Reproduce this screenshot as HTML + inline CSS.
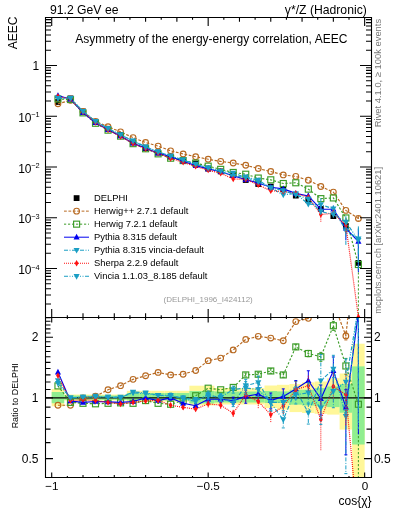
<!DOCTYPE html><html><head><meta charset="utf-8"><style>html,body{margin:0;padding:0;background:#fff;width:393px;height:512px;overflow:hidden}</style></head><body><svg width="393" height="512" viewBox="0 0 393 512" style="display:block;will-change:transform">
<rect width="393" height="512" fill="#fff"/>
<rect x="51.70" y="389.00" width="12.52" height="17.30" fill="#fff799"/>
<rect x="64.22" y="394.50" width="12.52" height="6.00" fill="#fff799"/>
<rect x="76.74" y="394.50" width="12.52" height="6.00" fill="#fff799"/>
<rect x="89.25" y="394.50" width="12.52" height="6.00" fill="#fff799"/>
<rect x="101.77" y="394.50" width="12.52" height="6.00" fill="#fff799"/>
<rect x="114.29" y="394.50" width="12.52" height="6.00" fill="#fff799"/>
<rect x="126.81" y="390.80" width="12.52" height="10.90" fill="#fff799"/>
<rect x="139.33" y="390.80" width="12.52" height="10.90" fill="#fff799"/>
<rect x="151.84" y="390.80" width="12.52" height="10.90" fill="#fff799"/>
<rect x="164.36" y="390.80" width="12.52" height="10.90" fill="#fff799"/>
<rect x="176.88" y="390.80" width="12.52" height="10.90" fill="#fff799"/>
<rect x="189.40" y="385.70" width="12.52" height="19.80" fill="#fff799"/>
<rect x="201.92" y="385.70" width="12.52" height="19.80" fill="#fff799"/>
<rect x="214.43" y="388.00" width="12.52" height="16.50" fill="#fff799"/>
<rect x="226.95" y="388.00" width="12.52" height="16.50" fill="#fff799"/>
<rect x="239.47" y="388.00" width="12.52" height="16.50" fill="#fff799"/>
<rect x="251.99" y="388.00" width="12.52" height="16.50" fill="#fff799"/>
<rect x="264.51" y="385.50" width="12.52" height="22.50" fill="#fff799"/>
<rect x="277.02" y="384.80" width="12.52" height="24.80" fill="#fff799"/>
<rect x="289.54" y="384.00" width="12.52" height="28.10" fill="#fff799"/>
<rect x="302.06" y="382.40" width="12.52" height="30.60" fill="#fff799"/>
<rect x="314.58" y="381.50" width="12.52" height="32.30" fill="#fff799"/>
<rect x="327.10" y="378.20" width="12.52" height="36.40" fill="#fff799"/>
<rect x="339.61" y="373.50" width="12.52" height="56.10" fill="#fff799"/>
<rect x="352.13" y="343.70" width="12.52" height="133.80" fill="#fff799"/>
<rect x="51.70" y="392.00" width="12.52" height="11.20" fill="#90ee90"/>
<rect x="64.22" y="395.50" width="12.52" height="4.30" fill="#90ee90"/>
<rect x="76.74" y="395.50" width="12.52" height="4.30" fill="#90ee90"/>
<rect x="89.25" y="395.50" width="12.52" height="4.30" fill="#90ee90"/>
<rect x="101.77" y="395.50" width="12.52" height="4.30" fill="#90ee90"/>
<rect x="114.29" y="395.50" width="12.52" height="4.30" fill="#90ee90"/>
<rect x="126.81" y="393.00" width="12.52" height="7.40" fill="#90ee90"/>
<rect x="139.33" y="393.00" width="12.52" height="7.40" fill="#90ee90"/>
<rect x="151.84" y="393.00" width="12.52" height="7.40" fill="#90ee90"/>
<rect x="164.36" y="393.00" width="12.52" height="7.40" fill="#90ee90"/>
<rect x="176.88" y="393.00" width="12.52" height="7.40" fill="#90ee90"/>
<rect x="189.40" y="391.00" width="12.52" height="12.50" fill="#90ee90"/>
<rect x="201.92" y="391.00" width="12.52" height="12.50" fill="#90ee90"/>
<rect x="214.43" y="391.50" width="12.52" height="11.00" fill="#90ee90"/>
<rect x="226.95" y="391.50" width="12.52" height="11.00" fill="#90ee90"/>
<rect x="239.47" y="391.50" width="12.52" height="11.00" fill="#90ee90"/>
<rect x="251.99" y="391.50" width="12.52" height="11.00" fill="#90ee90"/>
<rect x="264.51" y="391.00" width="12.52" height="12.00" fill="#90ee90"/>
<rect x="277.02" y="391.40" width="12.52" height="11.60" fill="#90ee90"/>
<rect x="289.54" y="389.80" width="12.52" height="14.90" fill="#90ee90"/>
<rect x="302.06" y="389.80" width="12.52" height="15.70" fill="#90ee90"/>
<rect x="314.58" y="388.10" width="12.52" height="18.20" fill="#90ee90"/>
<rect x="327.10" y="386.50" width="12.52" height="20.60" fill="#90ee90"/>
<rect x="339.61" y="384.00" width="12.52" height="28.70" fill="#90ee90"/>
<rect x="352.13" y="366.40" width="12.52" height="78.10" fill="#90ee90"/>
<line x1="45.5" y1="397.9" x2="371.5" y2="397.9" stroke="#000" stroke-width="1.2"/>
<clipPath id="cu"><rect x="45.5" y="17.5" width="326.0" height="300.0"/></clipPath>
<clipPath id="cr"><rect x="45.5" y="317.5" width="326.0" height="160.0"/></clipPath>
<g clip-path="url(#cu)">
<rect x="55.06" y="99.10" width="5.8" height="5.8" fill="#000"/>
<rect x="67.58" y="95.50" width="5.8" height="5.8" fill="#000"/>
<rect x="80.10" y="108.60" width="5.8" height="5.8" fill="#000"/>
<rect x="92.61" y="118.90" width="5.8" height="5.8" fill="#000"/>
<rect x="105.13" y="125.90" width="5.8" height="5.8" fill="#000"/>
<rect x="117.65" y="132.00" width="5.8" height="5.8" fill="#000"/>
<rect x="130.17" y="139.40" width="5.8" height="5.8" fill="#000"/>
<rect x="142.69" y="145.20" width="5.8" height="5.8" fill="#000"/>
<rect x="155.20" y="149.60" width="5.8" height="5.8" fill="#000"/>
<rect x="167.72" y="153.70" width="5.8" height="5.8" fill="#000"/>
<rect x="180.24" y="157.00" width="5.8" height="5.8" fill="#000"/>
<rect x="192.76" y="160.70" width="5.8" height="5.8" fill="#000"/>
<rect x="205.28" y="165.70" width="5.8" height="5.8" fill="#000"/>
<rect x="217.79" y="168.50" width="5.8" height="5.8" fill="#000"/>
<rect x="230.31" y="172.20" width="5.8" height="5.8" fill="#000"/>
<rect x="242.83" y="177.10" width="5.8" height="5.8" fill="#000"/>
<rect x="255.35" y="181.10" width="5.8" height="5.8" fill="#000"/>
<rect x="267.87" y="183.70" width="5.8" height="5.8" fill="#000"/>
<rect x="280.38" y="186.40" width="5.8" height="5.8" fill="#000"/>
<rect x="292.90" y="192.70" width="5.8" height="5.8" fill="#000"/>
<rect x="305.42" y="197.40" width="5.8" height="5.8" fill="#000"/>
<rect x="317.94" y="206.10" width="5.8" height="5.8" fill="#000"/>
<rect x="330.46" y="213.20" width="5.8" height="5.8" fill="#000"/>
<rect x="342.97" y="223.10" width="5.8" height="5.8" fill="#000"/>
<rect x="355.49" y="260.00" width="5.8" height="5.8" fill="#000"/>
<polyline points="57.96,103.84 70.48,100.24 83.00,111.50 95.51,121.36 108.03,126.74 120.55,131.82 133.07,137.63 145.59,142.54 158.10,146.08 170.62,150.82 183.14,153.95 195.66,156.71 208.18,159.23 220.69,161.39 233.21,163.02 245.73,165.28 258.25,168.50 270.77,171.54 283.28,174.92 295.80,176.40 308.32,180.28 320.84,186.54 333.36,192.11 345.87,210.39 358.39,218.49" fill="none" stroke="#b86a22" stroke-width="1.15" stroke-dasharray="2.8,1.6"/>
<circle cx="57.96" cy="103.84" r="2.85" fill="none" stroke="#b86a22" stroke-width="1.15"/>
<circle cx="70.48" cy="100.24" r="2.85" fill="none" stroke="#b86a22" stroke-width="1.15"/>
<circle cx="83.00" cy="111.50" r="2.85" fill="none" stroke="#b86a22" stroke-width="1.15"/>
<circle cx="95.51" cy="121.36" r="2.85" fill="none" stroke="#b86a22" stroke-width="1.15"/>
<circle cx="108.03" cy="126.74" r="2.85" fill="none" stroke="#b86a22" stroke-width="1.15"/>
<circle cx="120.55" cy="131.82" r="2.85" fill="none" stroke="#b86a22" stroke-width="1.15"/>
<circle cx="133.07" cy="137.63" r="2.85" fill="none" stroke="#b86a22" stroke-width="1.15"/>
<circle cx="145.59" cy="142.54" r="2.85" fill="none" stroke="#b86a22" stroke-width="1.15"/>
<circle cx="158.10" cy="146.08" r="2.85" fill="none" stroke="#b86a22" stroke-width="1.15"/>
<circle cx="170.62" cy="150.82" r="2.85" fill="none" stroke="#b86a22" stroke-width="1.15"/>
<circle cx="183.14" cy="153.95" r="2.85" fill="none" stroke="#b86a22" stroke-width="1.15"/>
<circle cx="195.66" cy="156.71" r="2.85" fill="none" stroke="#b86a22" stroke-width="1.15"/>
<circle cx="208.18" cy="159.23" r="2.85" fill="none" stroke="#b86a22" stroke-width="1.15"/>
<circle cx="220.69" cy="161.39" r="2.85" fill="none" stroke="#b86a22" stroke-width="1.15"/>
<circle cx="233.21" cy="163.02" r="2.85" fill="none" stroke="#b86a22" stroke-width="1.15"/>
<circle cx="245.73" cy="165.28" r="2.85" fill="none" stroke="#b86a22" stroke-width="1.15"/>
<circle cx="258.25" cy="168.50" r="2.85" fill="none" stroke="#b86a22" stroke-width="1.15"/>
<circle cx="270.77" cy="171.54" r="2.85" fill="none" stroke="#b86a22" stroke-width="1.15"/>
<circle cx="283.28" cy="174.92" r="2.85" fill="none" stroke="#b86a22" stroke-width="1.15"/>
<circle cx="295.80" cy="176.40" r="2.85" fill="none" stroke="#b86a22" stroke-width="1.15"/>
<circle cx="308.32" cy="180.28" r="2.85" fill="none" stroke="#b86a22" stroke-width="1.15"/>
<circle cx="320.84" cy="186.54" r="2.85" fill="none" stroke="#b86a22" stroke-width="1.15"/>
<circle cx="333.36" cy="192.11" r="2.85" fill="none" stroke="#b86a22" stroke-width="1.15"/>
<circle cx="345.87" cy="210.39" r="2.85" fill="none" stroke="#b86a22" stroke-width="1.15"/>
<line x1="358.39" y1="216.14" x2="358.39" y2="221.12" stroke="#b86a22" stroke-width="1" stroke-dasharray="2.8,1.6"/>
<circle cx="358.39" cy="218.49" r="2.85" fill="none" stroke="#b86a22" stroke-width="1.15"/>
<polyline points="57.96,98.98 70.48,99.53 83.00,112.86 95.51,123.28 108.03,130.16 120.55,136.15 133.07,143.66 145.59,148.77 158.10,153.86 170.62,158.20 183.14,160.57 195.66,163.06 208.18,166.16 220.69,169.36 233.21,172.46 245.73,174.22 258.25,178.05 270.77,179.82 283.28,183.52 295.80,182.77 308.32,189.13 320.84,198.64 333.36,197.93 345.87,217.96 358.39,264.50" fill="none" stroke="#3c9c28" stroke-width="1.15" stroke-dasharray="2.2,1.8"/>
<rect x="54.96" y="95.98" width="6.0" height="6.0" fill="none" stroke="#3c9c28" stroke-width="1.15"/>
<rect x="67.48" y="96.53" width="6.0" height="6.0" fill="none" stroke="#3c9c28" stroke-width="1.15"/>
<rect x="80.00" y="109.86" width="6.0" height="6.0" fill="none" stroke="#3c9c28" stroke-width="1.15"/>
<rect x="92.51" y="120.28" width="6.0" height="6.0" fill="none" stroke="#3c9c28" stroke-width="1.15"/>
<rect x="105.03" y="127.16" width="6.0" height="6.0" fill="none" stroke="#3c9c28" stroke-width="1.15"/>
<rect x="117.55" y="133.15" width="6.0" height="6.0" fill="none" stroke="#3c9c28" stroke-width="1.15"/>
<rect x="130.07" y="140.66" width="6.0" height="6.0" fill="none" stroke="#3c9c28" stroke-width="1.15"/>
<rect x="142.59" y="145.77" width="6.0" height="6.0" fill="none" stroke="#3c9c28" stroke-width="1.15"/>
<rect x="155.10" y="150.86" width="6.0" height="6.0" fill="none" stroke="#3c9c28" stroke-width="1.15"/>
<rect x="167.62" y="155.20" width="6.0" height="6.0" fill="none" stroke="#3c9c28" stroke-width="1.15"/>
<rect x="180.14" y="157.57" width="6.0" height="6.0" fill="none" stroke="#3c9c28" stroke-width="1.15"/>
<rect x="192.66" y="160.06" width="6.0" height="6.0" fill="none" stroke="#3c9c28" stroke-width="1.15"/>
<rect x="205.18" y="163.16" width="6.0" height="6.0" fill="none" stroke="#3c9c28" stroke-width="1.15"/>
<rect x="217.69" y="166.36" width="6.0" height="6.0" fill="none" stroke="#3c9c28" stroke-width="1.15"/>
<rect x="230.21" y="169.46" width="6.0" height="6.0" fill="none" stroke="#3c9c28" stroke-width="1.15"/>
<rect x="242.73" y="171.22" width="6.0" height="6.0" fill="none" stroke="#3c9c28" stroke-width="1.15"/>
<rect x="255.25" y="175.05" width="6.0" height="6.0" fill="none" stroke="#3c9c28" stroke-width="1.15"/>
<rect x="267.77" y="176.82" width="6.0" height="6.0" fill="none" stroke="#3c9c28" stroke-width="1.15"/>
<rect x="280.28" y="180.52" width="6.0" height="6.0" fill="none" stroke="#3c9c28" stroke-width="1.15"/>
<rect x="292.80" y="179.77" width="6.0" height="6.0" fill="none" stroke="#3c9c28" stroke-width="1.15"/>
<rect x="305.32" y="186.13" width="6.0" height="6.0" fill="none" stroke="#3c9c28" stroke-width="1.15"/>
<rect x="317.84" y="195.64" width="6.0" height="6.0" fill="none" stroke="#3c9c28" stroke-width="1.15"/>
<rect x="330.36" y="194.93" width="6.0" height="6.0" fill="none" stroke="#3c9c28" stroke-width="1.15"/>
<rect x="342.87" y="214.96" width="6.0" height="6.0" fill="none" stroke="#3c9c28" stroke-width="1.15"/>
<line x1="358.39" y1="244.30" x2="358.39" y2="600.00" stroke="#3c9c28" stroke-width="1" stroke-dasharray="2.2,1.8"/>
<rect x="355.39" y="261.50" width="6.0" height="6.0" fill="none" stroke="#3c9c28" stroke-width="1.15"/>
<polyline points="57.96,95.55 70.48,99.19 83.00,112.63 95.51,122.70 108.03,129.81 120.55,136.03 133.07,143.20 145.59,148.10 158.10,153.17 170.62,156.60 183.14,161.26 195.66,165.58 208.18,168.93 220.69,171.73 233.21,175.77 245.73,179.63 258.25,183.03 270.77,187.27 283.28,188.93 295.80,193.34 308.32,195.97 320.84,209.22 333.36,209.26 345.87,228.32 358.39,241.50" fill="none" stroke="#0000f0" stroke-width="1.15"/>
<path d="M57.96,92.15 L61.01,97.85 L54.91,97.85Z" fill="#0000f0"/>
<path d="M70.48,95.79 L73.53,101.49 L67.43,101.49Z" fill="#0000f0"/>
<path d="M83.00,109.23 L86.05,114.93 L79.95,114.93Z" fill="#0000f0"/>
<path d="M95.51,119.30 L98.56,125.00 L92.46,125.00Z" fill="#0000f0"/>
<path d="M108.03,126.41 L111.08,132.11 L104.98,132.11Z" fill="#0000f0"/>
<path d="M120.55,132.63 L123.60,138.33 L117.50,138.33Z" fill="#0000f0"/>
<path d="M133.07,139.80 L136.12,145.50 L130.02,145.50Z" fill="#0000f0"/>
<path d="M145.59,144.70 L148.64,150.40 L142.54,150.40Z" fill="#0000f0"/>
<path d="M158.10,149.77 L161.15,155.47 L155.05,155.47Z" fill="#0000f0"/>
<path d="M170.62,153.20 L173.67,158.90 L167.57,158.90Z" fill="#0000f0"/>
<path d="M183.14,157.86 L186.19,163.56 L180.09,163.56Z" fill="#0000f0"/>
<path d="M195.66,162.18 L198.71,167.88 L192.61,167.88Z" fill="#0000f0"/>
<path d="M208.18,165.53 L211.23,171.23 L205.13,171.23Z" fill="#0000f0"/>
<path d="M220.69,168.33 L223.74,174.03 L217.64,174.03Z" fill="#0000f0"/>
<path d="M233.21,172.37 L236.26,178.07 L230.16,178.07Z" fill="#0000f0"/>
<path d="M245.73,176.23 L248.78,181.93 L242.68,181.93Z" fill="#0000f0"/>
<path d="M258.25,179.63 L261.30,185.33 L255.20,185.33Z" fill="#0000f0"/>
<path d="M270.77,183.87 L273.82,189.57 L267.72,189.57Z" fill="#0000f0"/>
<path d="M283.28,185.53 L286.33,191.23 L280.23,191.23Z" fill="#0000f0"/>
<path d="M295.80,189.94 L298.85,195.64 L292.75,195.64Z" fill="#0000f0"/>
<line x1="308.32" y1="193.47" x2="308.32" y2="198.79" stroke="#0000f0" stroke-width="1"/>
<path d="M308.32,192.57 L311.37,198.27 L305.27,198.27Z" fill="#0000f0"/>
<line x1="320.84" y1="205.76" x2="320.84" y2="213.33" stroke="#0000f0" stroke-width="1"/>
<path d="M320.84,205.82 L323.89,211.52 L317.79,211.52Z" fill="#0000f0"/>
<line x1="333.36" y1="205.80" x2="333.36" y2="213.36" stroke="#0000f0" stroke-width="1"/>
<path d="M333.36,205.86 L336.41,211.56 L330.31,211.56Z" fill="#0000f0"/>
<line x1="345.87" y1="223.94" x2="345.87" y2="240.33" stroke="#0000f0" stroke-width="1"/>
<path d="M345.87,224.92 L348.92,230.62 L342.82,230.62Z" fill="#0000f0"/>
<line x1="358.39" y1="229.17" x2="358.39" y2="272.06" stroke="#0000f0" stroke-width="1"/>
<path d="M358.39,238.10 L361.44,243.80 L355.34,243.80Z" fill="#0000f0"/>
<polyline points="57.96,97.62 70.48,98.40 83.00,111.28 95.51,121.58 108.03,128.58 120.55,134.90 133.07,140.81 145.59,146.82 158.10,151.85 170.62,155.95 183.14,160.12 195.66,164.50 208.18,167.74 220.69,171.40 233.21,176.39 245.73,176.92 258.25,180.11 270.77,187.89 283.28,194.78 295.80,193.56 308.32,204.06 320.84,204.67 333.36,208.84 345.87,230.64 358.39,238.69" fill="none" stroke="#1a9ec4" stroke-width="1.15" stroke-dasharray="4,1.5,1,1.5"/>
<path d="M57.96,101.02 L61.01,95.32 L54.91,95.32Z" fill="#1a9ec4"/>
<path d="M70.48,101.80 L73.53,96.10 L67.43,96.10Z" fill="#1a9ec4"/>
<path d="M83.00,114.68 L86.05,108.98 L79.95,108.98Z" fill="#1a9ec4"/>
<path d="M95.51,124.98 L98.56,119.28 L92.46,119.28Z" fill="#1a9ec4"/>
<path d="M108.03,131.98 L111.08,126.28 L104.98,126.28Z" fill="#1a9ec4"/>
<path d="M120.55,138.30 L123.60,132.60 L117.50,132.60Z" fill="#1a9ec4"/>
<path d="M133.07,144.21 L136.12,138.51 L130.02,138.51Z" fill="#1a9ec4"/>
<path d="M145.59,150.22 L148.64,144.52 L142.54,144.52Z" fill="#1a9ec4"/>
<path d="M158.10,155.25 L161.15,149.55 L155.05,149.55Z" fill="#1a9ec4"/>
<path d="M170.62,159.35 L173.67,153.65 L167.57,153.65Z" fill="#1a9ec4"/>
<path d="M183.14,163.52 L186.19,157.82 L180.09,157.82Z" fill="#1a9ec4"/>
<path d="M195.66,167.90 L198.71,162.20 L192.61,162.20Z" fill="#1a9ec4"/>
<path d="M208.18,171.14 L211.23,165.44 L205.13,165.44Z" fill="#1a9ec4"/>
<path d="M220.69,174.80 L223.74,169.10 L217.64,169.10Z" fill="#1a9ec4"/>
<path d="M233.21,179.79 L236.26,174.09 L230.16,174.09Z" fill="#1a9ec4"/>
<path d="M245.73,180.32 L248.78,174.62 L242.68,174.62Z" fill="#1a9ec4"/>
<path d="M258.25,183.51 L261.30,177.81 L255.20,177.81Z" fill="#1a9ec4"/>
<path d="M270.77,191.29 L273.82,185.59 L267.72,185.59Z" fill="#1a9ec4"/>
<path d="M283.28,198.18 L286.33,192.48 L280.23,192.48Z" fill="#1a9ec4"/>
<path d="M295.80,196.96 L298.85,191.26 L292.75,191.26Z" fill="#1a9ec4"/>
<line x1="308.32" y1="201.57" x2="308.32" y2="206.88" stroke="#1a9ec4" stroke-width="1" stroke-dasharray="4,1.5,1,1.5"/>
<path d="M308.32,207.46 L311.37,201.76 L305.27,201.76Z" fill="#1a9ec4"/>
<line x1="320.84" y1="198.06" x2="320.84" y2="214.17" stroke="#1a9ec4" stroke-width="1" stroke-dasharray="4,1.5,1,1.5"/>
<path d="M320.84,208.07 L323.89,202.37 L317.79,202.37Z" fill="#1a9ec4"/>
<line x1="333.36" y1="205.38" x2="333.36" y2="212.95" stroke="#1a9ec4" stroke-width="1" stroke-dasharray="4,1.5,1,1.5"/>
<path d="M333.36,212.24 L336.41,206.54 L330.31,206.54Z" fill="#1a9ec4"/>
<line x1="345.87" y1="224.86" x2="345.87" y2="245.06" stroke="#1a9ec4" stroke-width="1" stroke-dasharray="4,1.5,1,1.5"/>
<path d="M345.87,234.04 L348.92,228.34 L342.82,228.34Z" fill="#1a9ec4"/>
<line x1="358.39" y1="226.35" x2="358.39" y2="269.24" stroke="#1a9ec4" stroke-width="1" stroke-dasharray="4,1.5,1,1.5"/>
<path d="M358.39,242.09 L361.44,236.39 L355.34,236.39Z" fill="#1a9ec4"/>
<polyline points="57.96,96.39 70.48,99.07 83.00,111.95 95.51,122.47 108.03,129.93 120.55,136.43 133.07,143.43 145.59,148.86 158.10,153.10 170.62,158.44 183.14,162.30 195.66,166.42 208.18,170.10 220.69,173.24 233.21,178.97 245.73,179.22 258.25,184.90 270.77,190.81 283.28,191.43 295.80,193.50 308.32,197.22 320.84,214.48 333.36,213.21 345.87,225.20 358.39,317.00" fill="none" stroke="#ff1010" stroke-width="1.15" stroke-dasharray="1,1"/>
<path d="M57.96,93.19 L59.86,96.39 L57.96,99.59 L56.06,96.39Z" fill="#ff1010"/>
<path d="M70.48,95.87 L72.38,99.07 L70.48,102.27 L68.58,99.07Z" fill="#ff1010"/>
<path d="M83.00,108.75 L84.90,111.95 L83.00,115.15 L81.10,111.95Z" fill="#ff1010"/>
<path d="M95.51,119.27 L97.41,122.47 L95.51,125.67 L93.61,122.47Z" fill="#ff1010"/>
<path d="M108.03,126.73 L109.93,129.93 L108.03,133.13 L106.13,129.93Z" fill="#ff1010"/>
<path d="M120.55,133.23 L122.45,136.43 L120.55,139.63 L118.65,136.43Z" fill="#ff1010"/>
<path d="M133.07,140.23 L134.97,143.43 L133.07,146.63 L131.17,143.43Z" fill="#ff1010"/>
<path d="M145.59,145.66 L147.49,148.86 L145.59,152.06 L143.69,148.86Z" fill="#ff1010"/>
<path d="M158.10,149.90 L160.00,153.10 L158.10,156.30 L156.20,153.10Z" fill="#ff1010"/>
<path d="M170.62,155.24 L172.52,158.44 L170.62,161.64 L168.72,158.44Z" fill="#ff1010"/>
<path d="M183.14,159.10 L185.04,162.30 L183.14,165.50 L181.24,162.30Z" fill="#ff1010"/>
<path d="M195.66,163.22 L197.56,166.42 L195.66,169.62 L193.76,166.42Z" fill="#ff1010"/>
<path d="M208.18,166.90 L210.08,170.10 L208.18,173.30 L206.28,170.10Z" fill="#ff1010"/>
<path d="M220.69,170.04 L222.59,173.24 L220.69,176.44 L218.79,173.24Z" fill="#ff1010"/>
<path d="M233.21,175.77 L235.11,178.97 L233.21,182.17 L231.31,178.97Z" fill="#ff1010"/>
<path d="M245.73,176.02 L247.63,179.22 L245.73,182.42 L243.83,179.22Z" fill="#ff1010"/>
<path d="M258.25,181.70 L260.15,184.90 L258.25,188.10 L256.35,184.90Z" fill="#ff1010"/>
<path d="M270.77,187.61 L272.67,190.81 L270.77,194.01 L268.87,190.81Z" fill="#ff1010"/>
<path d="M283.28,188.23 L285.18,191.43 L283.28,194.63 L281.38,191.43Z" fill="#ff1010"/>
<path d="M295.80,190.30 L297.70,193.50 L295.80,196.70 L293.90,193.50Z" fill="#ff1010"/>
<line x1="308.32" y1="194.72" x2="308.32" y2="200.04" stroke="#ff1010" stroke-width="1" stroke-dasharray="1,1"/>
<path d="M308.32,194.02 L310.22,197.22 L308.32,200.42 L306.42,197.22Z" fill="#ff1010"/>
<line x1="320.84" y1="208.69" x2="320.84" y2="222.34" stroke="#ff1010" stroke-width="1" stroke-dasharray="1,1"/>
<path d="M320.84,211.28 L322.74,214.48 L320.84,217.68 L318.94,214.48Z" fill="#ff1010"/>
<line x1="333.36" y1="209.75" x2="333.36" y2="217.32" stroke="#ff1010" stroke-width="1" stroke-dasharray="1,1"/>
<path d="M333.36,210.01 L335.26,213.21 L333.36,216.41 L331.46,213.21Z" fill="#ff1010"/>
<line x1="345.87" y1="219.42" x2="345.87" y2="233.06" stroke="#ff1010" stroke-width="1" stroke-dasharray="1,1"/>
<path d="M345.87,222.00 L347.77,225.20 L345.87,228.40 L343.97,225.20Z" fill="#ff1010"/>
<path d="M358.39,313.80 L360.29,317.00 L358.39,320.20 L356.49,317.00Z" fill="#ff1010"/>
<polyline points="57.96,98.35 70.48,98.40 83.00,111.28 95.51,121.36 108.03,128.58 120.55,134.68 133.07,141.02 145.59,147.02 158.10,151.85 170.62,156.16 183.14,159.90 195.66,164.05 208.18,168.16 220.69,171.18 233.21,173.00 245.73,177.50 258.25,181.90 270.77,187.73 283.28,190.43 295.80,194.80 308.32,199.02 320.84,211.57 333.36,214.47 345.87,221.98 358.39,240.21" fill="none" stroke="#1a9ec4" stroke-width="1.15" stroke-dasharray="4,1.5,1,1.5,1,1.5"/>
<path d="M57.96,101.75 L61.01,96.05 L54.91,96.05Z" fill="#1a9ec4"/>
<path d="M70.48,101.80 L73.53,96.10 L67.43,96.10Z" fill="#1a9ec4"/>
<path d="M83.00,114.68 L86.05,108.98 L79.95,108.98Z" fill="#1a9ec4"/>
<path d="M95.51,124.76 L98.56,119.06 L92.46,119.06Z" fill="#1a9ec4"/>
<path d="M108.03,131.98 L111.08,126.28 L104.98,126.28Z" fill="#1a9ec4"/>
<path d="M120.55,138.08 L123.60,132.38 L117.50,132.38Z" fill="#1a9ec4"/>
<path d="M133.07,144.42 L136.12,138.72 L130.02,138.72Z" fill="#1a9ec4"/>
<path d="M145.59,150.42 L148.64,144.72 L142.54,144.72Z" fill="#1a9ec4"/>
<path d="M158.10,155.25 L161.15,149.55 L155.05,149.55Z" fill="#1a9ec4"/>
<path d="M170.62,159.56 L173.67,153.86 L167.57,153.86Z" fill="#1a9ec4"/>
<path d="M183.14,163.30 L186.19,157.60 L180.09,157.60Z" fill="#1a9ec4"/>
<path d="M195.66,167.45 L198.71,161.75 L192.61,161.75Z" fill="#1a9ec4"/>
<path d="M208.18,171.56 L211.23,165.86 L205.13,165.86Z" fill="#1a9ec4"/>
<path d="M220.69,174.58 L223.74,168.88 L217.64,168.88Z" fill="#1a9ec4"/>
<path d="M233.21,176.40 L236.26,170.70 L230.16,170.70Z" fill="#1a9ec4"/>
<path d="M245.73,180.90 L248.78,175.20 L242.68,175.20Z" fill="#1a9ec4"/>
<path d="M258.25,185.30 L261.30,179.60 L255.20,179.60Z" fill="#1a9ec4"/>
<path d="M270.77,191.13 L273.82,185.43 L267.72,185.43Z" fill="#1a9ec4"/>
<path d="M283.28,193.83 L286.33,188.13 L280.23,188.13Z" fill="#1a9ec4"/>
<path d="M295.80,198.20 L298.85,192.50 L292.75,192.50Z" fill="#1a9ec4"/>
<line x1="308.32" y1="196.52" x2="308.32" y2="201.83" stroke="#1a9ec4" stroke-width="1" stroke-dasharray="4,1.5,1,1.5,1,1.5"/>
<path d="M308.32,202.42 L311.37,196.72 L305.27,196.72Z" fill="#1a9ec4"/>
<line x1="320.84" y1="208.11" x2="320.84" y2="215.68" stroke="#1a9ec4" stroke-width="1" stroke-dasharray="4,1.5,1,1.5,1,1.5"/>
<path d="M320.84,214.97 L323.89,209.27 L317.79,209.27Z" fill="#1a9ec4"/>
<line x1="333.36" y1="211.00" x2="333.36" y2="218.57" stroke="#1a9ec4" stroke-width="1" stroke-dasharray="4,1.5,1,1.5,1,1.5"/>
<path d="M333.36,217.87 L336.41,212.17 L330.31,212.17Z" fill="#1a9ec4"/>
<line x1="345.87" y1="216.20" x2="345.87" y2="229.84" stroke="#1a9ec4" stroke-width="1" stroke-dasharray="4,1.5,1,1.5,1,1.5"/>
<path d="M345.87,225.38 L348.92,219.68 L342.82,219.68Z" fill="#1a9ec4"/>
<line x1="358.39" y1="227.87" x2="358.39" y2="270.76" stroke="#1a9ec4" stroke-width="1" stroke-dasharray="4,1.5,1,1.5,1,1.5"/>
<path d="M358.39,243.61 L361.44,237.91 L355.34,237.91Z" fill="#1a9ec4"/>
</g>
<g clip-path="url(#cr)">
<polyline points="57.96,405.20 70.48,405.20 83.00,397.90 95.51,396.17 108.03,389.71 120.55,385.66 133.07,379.35 145.59,375.80 158.10,372.40 170.62,374.92 183.14,374.25 195.66,370.52 208.18,360.66 220.69,358.12 233.21,349.90 245.73,339.42 258.25,336.33 270.77,338.08 283.28,340.77 295.80,321.60 308.32,318.36 320.84,308.68 333.36,302.57 345.87,335.90 358.39,221.45" fill="none" stroke="#b86a22" stroke-width="1.15" stroke-dasharray="2.8,1.6"/>
<circle cx="57.96" cy="405.20" r="2.85" fill="none" stroke="#b86a22" stroke-width="1.15"/>
<circle cx="70.48" cy="405.20" r="2.85" fill="none" stroke="#b86a22" stroke-width="1.15"/>
<circle cx="83.00" cy="397.90" r="2.85" fill="none" stroke="#b86a22" stroke-width="1.15"/>
<circle cx="95.51" cy="396.17" r="2.85" fill="none" stroke="#b86a22" stroke-width="1.15"/>
<circle cx="108.03" cy="389.71" r="2.85" fill="none" stroke="#b86a22" stroke-width="1.15"/>
<circle cx="120.55" cy="385.66" r="2.85" fill="none" stroke="#b86a22" stroke-width="1.15"/>
<circle cx="133.07" cy="379.35" r="2.85" fill="none" stroke="#b86a22" stroke-width="1.15"/>
<circle cx="145.59" cy="375.80" r="2.85" fill="none" stroke="#b86a22" stroke-width="1.15"/>
<circle cx="158.10" cy="372.40" r="2.85" fill="none" stroke="#b86a22" stroke-width="1.15"/>
<circle cx="170.62" cy="374.92" r="2.85" fill="none" stroke="#b86a22" stroke-width="1.15"/>
<circle cx="183.14" cy="374.25" r="2.85" fill="none" stroke="#b86a22" stroke-width="1.15"/>
<circle cx="195.66" cy="370.52" r="2.85" fill="none" stroke="#b86a22" stroke-width="1.15"/>
<circle cx="208.18" cy="360.66" r="2.85" fill="none" stroke="#b86a22" stroke-width="1.15"/>
<circle cx="220.69" cy="358.12" r="2.85" fill="none" stroke="#b86a22" stroke-width="1.15"/>
<circle cx="233.21" cy="349.90" r="2.85" fill="none" stroke="#b86a22" stroke-width="1.15"/>
<circle cx="245.73" cy="339.42" r="2.85" fill="none" stroke="#b86a22" stroke-width="1.15"/>
<circle cx="258.25" cy="336.33" r="2.85" fill="none" stroke="#b86a22" stroke-width="1.15"/>
<circle cx="270.77" cy="338.08" r="2.85" fill="none" stroke="#b86a22" stroke-width="1.15"/>
<circle cx="283.28" cy="340.77" r="2.85" fill="none" stroke="#b86a22" stroke-width="1.15"/>
<circle cx="295.80" cy="321.60" r="2.85" fill="none" stroke="#b86a22" stroke-width="1.15"/>
<circle cx="308.32" cy="318.36" r="2.85" fill="none" stroke="#b86a22" stroke-width="1.15"/>
<line x1="320.84" y1="306.47" x2="320.84" y2="310.94" stroke="#b86a22" stroke-width="1" stroke-dasharray="2.8,1.6"/>
<path d="M319.34,306.47h3 M319.34,310.94h3" stroke="#b86a22" stroke-width="1"/>
<circle cx="320.84" cy="308.68" r="2.85" fill="none" stroke="#b86a22" stroke-width="1.15"/>
<line x1="333.36" y1="300.37" x2="333.36" y2="304.83" stroke="#b86a22" stroke-width="1" stroke-dasharray="2.8,1.6"/>
<path d="M331.86,300.37h3 M331.86,304.83h3" stroke="#b86a22" stroke-width="1"/>
<circle cx="333.36" cy="302.57" r="2.85" fill="none" stroke="#b86a22" stroke-width="1.15"/>
<line x1="345.87" y1="332.04" x2="345.87" y2="339.93" stroke="#b86a22" stroke-width="1" stroke-dasharray="2.8,1.6"/>
<path d="M344.37,332.04h3 M344.37,339.93h3" stroke="#b86a22" stroke-width="1"/>
<circle cx="345.87" cy="335.90" r="2.85" fill="none" stroke="#b86a22" stroke-width="1.15"/>
<line x1="358.39" y1="212.12" x2="358.39" y2="231.90" stroke="#b86a22" stroke-width="1" stroke-dasharray="2.8,1.6"/>
<path d="M356.89,212.12h3 M356.89,231.90h3" stroke="#b86a22" stroke-width="1"/>
<circle cx="358.39" cy="221.45" r="2.85" fill="none" stroke="#b86a22" stroke-width="1.15"/>
<polyline points="57.96,385.89 70.48,402.39 83.00,403.32 95.51,403.79 108.03,403.32 120.55,402.85 133.07,403.32 145.59,400.57 158.10,403.32 170.62,404.26 183.14,400.57 195.66,395.74 208.18,388.21 220.69,389.79 233.21,387.43 245.73,374.92 258.25,374.25 270.77,370.97 283.28,374.92 295.80,346.91 308.32,353.52 320.84,356.74 333.36,325.73 345.87,365.97 358.39,404.26" fill="none" stroke="#3c9c28" stroke-width="1.15" stroke-dasharray="2.2,1.8"/>
<rect x="54.96" y="382.89" width="6.0" height="6.0" fill="none" stroke="#3c9c28" stroke-width="1.15"/>
<rect x="67.48" y="399.39" width="6.0" height="6.0" fill="none" stroke="#3c9c28" stroke-width="1.15"/>
<rect x="80.00" y="400.32" width="6.0" height="6.0" fill="none" stroke="#3c9c28" stroke-width="1.15"/>
<rect x="92.51" y="400.79" width="6.0" height="6.0" fill="none" stroke="#3c9c28" stroke-width="1.15"/>
<rect x="105.03" y="400.32" width="6.0" height="6.0" fill="none" stroke="#3c9c28" stroke-width="1.15"/>
<rect x="117.55" y="399.85" width="6.0" height="6.0" fill="none" stroke="#3c9c28" stroke-width="1.15"/>
<rect x="130.07" y="400.32" width="6.0" height="6.0" fill="none" stroke="#3c9c28" stroke-width="1.15"/>
<rect x="142.59" y="397.57" width="6.0" height="6.0" fill="none" stroke="#3c9c28" stroke-width="1.15"/>
<rect x="155.10" y="400.32" width="6.0" height="6.0" fill="none" stroke="#3c9c28" stroke-width="1.15"/>
<rect x="167.62" y="401.26" width="6.0" height="6.0" fill="none" stroke="#3c9c28" stroke-width="1.15"/>
<rect x="180.14" y="397.57" width="6.0" height="6.0" fill="none" stroke="#3c9c28" stroke-width="1.15"/>
<rect x="192.66" y="392.74" width="6.0" height="6.0" fill="none" stroke="#3c9c28" stroke-width="1.15"/>
<rect x="205.18" y="385.21" width="6.0" height="6.0" fill="none" stroke="#3c9c28" stroke-width="1.15"/>
<rect x="217.69" y="386.79" width="6.0" height="6.0" fill="none" stroke="#3c9c28" stroke-width="1.15"/>
<rect x="230.21" y="384.43" width="6.0" height="6.0" fill="none" stroke="#3c9c28" stroke-width="1.15"/>
<line x1="245.73" y1="372.98" x2="245.73" y2="376.92" stroke="#3c9c28" stroke-width="1" stroke-dasharray="2.2,1.8"/>
<path d="M244.23,372.98h3 M244.23,376.92h3" stroke="#3c9c28" stroke-width="1"/>
<rect x="242.73" y="371.92" width="6.0" height="6.0" fill="none" stroke="#3c9c28" stroke-width="1.15"/>
<line x1="258.25" y1="372.30" x2="258.25" y2="376.25" stroke="#3c9c28" stroke-width="1" stroke-dasharray="2.2,1.8"/>
<path d="M256.75,372.30h3 M256.75,376.25h3" stroke="#3c9c28" stroke-width="1"/>
<rect x="255.25" y="371.25" width="6.0" height="6.0" fill="none" stroke="#3c9c28" stroke-width="1.15"/>
<line x1="270.77" y1="368.64" x2="270.77" y2="373.37" stroke="#3c9c28" stroke-width="1" stroke-dasharray="2.2,1.8"/>
<path d="M269.27,368.64h3 M269.27,373.37h3" stroke="#3c9c28" stroke-width="1"/>
<rect x="267.77" y="367.97" width="6.0" height="6.0" fill="none" stroke="#3c9c28" stroke-width="1.15"/>
<line x1="283.28" y1="372.59" x2="283.28" y2="377.32" stroke="#3c9c28" stroke-width="1" stroke-dasharray="2.2,1.8"/>
<path d="M281.78,372.59h3 M281.78,377.32h3" stroke="#3c9c28" stroke-width="1"/>
<rect x="280.28" y="371.92" width="6.0" height="6.0" fill="none" stroke="#3c9c28" stroke-width="1.15"/>
<line x1="295.80" y1="344.33" x2="295.80" y2="349.58" stroke="#3c9c28" stroke-width="1" stroke-dasharray="2.2,1.8"/>
<path d="M294.30,344.33h3 M294.30,349.58h3" stroke="#3c9c28" stroke-width="1"/>
<rect x="292.80" y="343.91" width="6.0" height="6.0" fill="none" stroke="#3c9c28" stroke-width="1.15"/>
<line x1="308.32" y1="350.42" x2="308.32" y2="356.73" stroke="#3c9c28" stroke-width="1" stroke-dasharray="2.2,1.8"/>
<path d="M306.82,350.42h3 M306.82,356.73h3" stroke="#3c9c28" stroke-width="1"/>
<rect x="305.32" y="350.52" width="6.0" height="6.0" fill="none" stroke="#3c9c28" stroke-width="1.15"/>
<line x1="320.84" y1="352.39" x2="320.84" y2="361.33" stroke="#3c9c28" stroke-width="1" stroke-dasharray="2.2,1.8"/>
<path d="M319.34,352.39h3 M319.34,361.33h3" stroke="#3c9c28" stroke-width="1"/>
<rect x="317.84" y="353.74" width="6.0" height="6.0" fill="none" stroke="#3c9c28" stroke-width="1.15"/>
<line x1="333.36" y1="321.37" x2="333.36" y2="330.31" stroke="#3c9c28" stroke-width="1" stroke-dasharray="2.2,1.8"/>
<path d="M331.86,321.37h3 M331.86,330.31h3" stroke="#3c9c28" stroke-width="1"/>
<rect x="330.36" y="322.73" width="6.0" height="6.0" fill="none" stroke="#3c9c28" stroke-width="1.15"/>
<line x1="345.87" y1="358.42" x2="345.87" y2="374.23" stroke="#3c9c28" stroke-width="1" stroke-dasharray="2.2,1.8"/>
<path d="M344.37,358.42h3 M344.37,374.23h3" stroke="#3c9c28" stroke-width="1"/>
<rect x="342.87" y="362.97" width="6.0" height="6.0" fill="none" stroke="#3c9c28" stroke-width="1.15"/>
<line x1="358.39" y1="324.01" x2="358.39" y2="600.00" stroke="#3c9c28" stroke-width="1" stroke-dasharray="2.2,1.8"/>
<rect x="355.39" y="401.26" width="6.0" height="6.0" fill="none" stroke="#3c9c28" stroke-width="1.15"/>
<polyline points="57.96,372.27 70.48,401.02 83.00,402.39 95.51,401.47 108.03,401.93 120.55,402.39 133.07,401.47 145.59,397.90 158.10,400.57 170.62,397.90 183.14,403.32 195.66,405.77 208.18,399.22 220.69,399.22 233.21,400.57 245.73,396.42 258.25,394.05 270.77,400.57 283.28,396.42 295.80,388.92 308.32,380.70 320.84,398.78 333.36,370.72 345.87,407.13 358.39,312.89" fill="none" stroke="#0000f0" stroke-width="1.15"/>
<path d="M57.96,368.87 L61.01,374.57 L54.91,374.57Z" fill="#0000f0"/>
<path d="M70.48,397.62 L73.53,403.32 L67.43,403.32Z" fill="#0000f0"/>
<path d="M83.00,398.99 L86.05,404.69 L79.95,404.69Z" fill="#0000f0"/>
<path d="M95.51,398.07 L98.56,403.77 L92.46,403.77Z" fill="#0000f0"/>
<path d="M108.03,398.53 L111.08,404.23 L104.98,404.23Z" fill="#0000f0"/>
<path d="M120.55,398.99 L123.60,404.69 L117.50,404.69Z" fill="#0000f0"/>
<path d="M133.07,398.07 L136.12,403.77 L130.02,403.77Z" fill="#0000f0"/>
<path d="M145.59,394.50 L148.64,400.20 L142.54,400.20Z" fill="#0000f0"/>
<path d="M158.10,397.17 L161.15,402.87 L155.05,402.87Z" fill="#0000f0"/>
<line x1="170.62" y1="395.74" x2="170.62" y2="400.12" stroke="#0000f0" stroke-width="1"/>
<path d="M169.12,395.74h3 M169.12,400.12h3" stroke="#0000f0" stroke-width="1"/>
<path d="M170.62,394.50 L173.67,400.20 L167.57,400.20Z" fill="#0000f0"/>
<line x1="183.14" y1="401.16" x2="183.14" y2="405.54" stroke="#0000f0" stroke-width="1"/>
<path d="M181.64,401.16h3 M181.64,405.54h3" stroke="#0000f0" stroke-width="1"/>
<path d="M183.14,399.92 L186.19,405.62 L180.09,405.62Z" fill="#0000f0"/>
<line x1="195.66" y1="403.61" x2="195.66" y2="407.99" stroke="#0000f0" stroke-width="1"/>
<path d="M194.16,403.61h3 M194.16,407.99h3" stroke="#0000f0" stroke-width="1"/>
<path d="M195.66,402.37 L198.71,408.07 L192.61,408.07Z" fill="#0000f0"/>
<line x1="208.18" y1="395.79" x2="208.18" y2="402.80" stroke="#0000f0" stroke-width="1"/>
<path d="M206.68,395.79h3 M206.68,402.80h3" stroke="#0000f0" stroke-width="1"/>
<path d="M208.18,395.82 L211.23,401.52 L205.13,401.52Z" fill="#0000f0"/>
<line x1="220.69" y1="395.79" x2="220.69" y2="402.80" stroke="#0000f0" stroke-width="1"/>
<path d="M219.19,395.79h3 M219.19,402.80h3" stroke="#0000f0" stroke-width="1"/>
<path d="M220.69,395.82 L223.74,401.52 L217.64,401.52Z" fill="#0000f0"/>
<line x1="233.21" y1="397.13" x2="233.21" y2="404.14" stroke="#0000f0" stroke-width="1"/>
<path d="M231.71,397.13h3 M231.71,404.14h3" stroke="#0000f0" stroke-width="1"/>
<path d="M233.21,397.17 L236.26,402.87 L230.16,402.87Z" fill="#0000f0"/>
<line x1="245.73" y1="390.09" x2="245.73" y2="403.25" stroke="#0000f0" stroke-width="1"/>
<path d="M244.23,390.09h3 M244.23,403.25h3" stroke="#0000f0" stroke-width="1"/>
<path d="M245.73,393.02 L248.78,398.72 L242.68,398.72Z" fill="#0000f0"/>
<line x1="258.25" y1="387.71" x2="258.25" y2="400.87" stroke="#0000f0" stroke-width="1"/>
<path d="M256.75,387.71h3 M256.75,400.87h3" stroke="#0000f0" stroke-width="1"/>
<path d="M258.25,390.65 L261.30,396.35 L255.20,396.35Z" fill="#0000f0"/>
<line x1="270.77" y1="393.02" x2="270.77" y2="408.83" stroke="#0000f0" stroke-width="1"/>
<path d="M269.27,393.02h3 M269.27,408.83h3" stroke="#0000f0" stroke-width="1"/>
<path d="M270.77,397.17 L273.82,402.87 L267.72,402.87Z" fill="#0000f0"/>
<line x1="283.28" y1="388.88" x2="283.28" y2="404.68" stroke="#0000f0" stroke-width="1"/>
<path d="M281.78,388.88h3 M281.78,404.68h3" stroke="#0000f0" stroke-width="1"/>
<path d="M283.28,393.02 L286.33,398.72 L280.23,398.72Z" fill="#0000f0"/>
<line x1="295.80" y1="380.57" x2="295.80" y2="398.15" stroke="#0000f0" stroke-width="1"/>
<path d="M294.30,380.57h3 M294.30,398.15h3" stroke="#0000f0" stroke-width="1"/>
<path d="M295.80,385.52 L298.85,391.22 L292.75,391.22Z" fill="#0000f0"/>
<line x1="308.32" y1="370.78" x2="308.32" y2="391.90" stroke="#0000f0" stroke-width="1"/>
<path d="M306.82,370.78h3 M306.82,391.90h3" stroke="#0000f0" stroke-width="1"/>
<path d="M308.32,377.30 L311.37,383.00 L305.27,383.00Z" fill="#0000f0"/>
<line x1="320.84" y1="385.03" x2="320.84" y2="415.10" stroke="#0000f0" stroke-width="1"/>
<path d="M319.34,385.03h3 M319.34,415.10h3" stroke="#0000f0" stroke-width="1"/>
<path d="M320.84,395.38 L323.89,401.08 L317.79,401.08Z" fill="#0000f0"/>
<line x1="333.36" y1="356.97" x2="333.36" y2="387.03" stroke="#0000f0" stroke-width="1"/>
<path d="M331.86,356.97h3 M331.86,387.03h3" stroke="#0000f0" stroke-width="1"/>
<path d="M333.36,367.32 L336.41,373.02 L330.31,373.02Z" fill="#0000f0"/>
<line x1="345.87" y1="389.71" x2="345.87" y2="454.83" stroke="#0000f0" stroke-width="1"/>
<path d="M344.37,389.71h3 M344.37,454.83h3" stroke="#0000f0" stroke-width="1"/>
<path d="M345.87,403.73 L348.92,409.43 L342.82,409.43Z" fill="#0000f0"/>
<line x1="358.39" y1="263.88" x2="358.39" y2="434.29" stroke="#0000f0" stroke-width="1"/>
<path d="M358.39,309.49 L361.44,315.19 L355.34,315.19Z" fill="#0000f0"/>
<polyline points="57.96,380.49 70.48,397.90 83.00,397.03 95.51,397.03 108.03,397.03 120.55,397.90 133.07,391.98 145.59,392.80 158.10,395.31 170.62,395.31 183.14,398.78 195.66,401.47 208.18,394.47 220.69,397.90 233.21,403.04 245.73,385.66 258.25,382.45 270.77,403.04 283.28,419.66 295.80,389.79 308.32,412.86 320.84,380.70 333.36,369.06 345.87,416.35 358.39,301.69" fill="none" stroke="#1a9ec4" stroke-width="1.15" stroke-dasharray="4,1.5,1,1.5"/>
<path d="M57.96,383.89 L61.01,378.19 L54.91,378.19Z" fill="#1a9ec4"/>
<path d="M70.48,401.30 L73.53,395.60 L67.43,395.60Z" fill="#1a9ec4"/>
<path d="M83.00,400.43 L86.05,394.73 L79.95,394.73Z" fill="#1a9ec4"/>
<path d="M95.51,400.43 L98.56,394.73 L92.46,394.73Z" fill="#1a9ec4"/>
<path d="M108.03,400.43 L111.08,394.73 L104.98,394.73Z" fill="#1a9ec4"/>
<path d="M120.55,401.30 L123.60,395.60 L117.50,395.60Z" fill="#1a9ec4"/>
<path d="M133.07,395.38 L136.12,389.68 L130.02,389.68Z" fill="#1a9ec4"/>
<path d="M145.59,396.20 L148.64,390.50 L142.54,390.50Z" fill="#1a9ec4"/>
<path d="M158.10,398.71 L161.15,393.01 L155.05,393.01Z" fill="#1a9ec4"/>
<line x1="170.62" y1="393.15" x2="170.62" y2="397.53" stroke="#1a9ec4" stroke-width="1" stroke-dasharray="4,1.5,1,1.5"/>
<path d="M169.12,393.15h3 M169.12,397.53h3" stroke="#1a9ec4" stroke-width="1"/>
<path d="M170.62,398.71 L173.67,393.01 L167.57,393.01Z" fill="#1a9ec4"/>
<line x1="183.14" y1="396.62" x2="183.14" y2="401.00" stroke="#1a9ec4" stroke-width="1" stroke-dasharray="4,1.5,1,1.5"/>
<path d="M181.64,396.62h3 M181.64,401.00h3" stroke="#1a9ec4" stroke-width="1"/>
<path d="M183.14,402.18 L186.19,396.48 L180.09,396.48Z" fill="#1a9ec4"/>
<line x1="195.66" y1="399.31" x2="195.66" y2="403.69" stroke="#1a9ec4" stroke-width="1" stroke-dasharray="4,1.5,1,1.5"/>
<path d="M194.16,399.31h3 M194.16,403.69h3" stroke="#1a9ec4" stroke-width="1"/>
<path d="M195.66,404.87 L198.71,399.17 L192.61,399.17Z" fill="#1a9ec4"/>
<line x1="208.18" y1="391.03" x2="208.18" y2="398.04" stroke="#1a9ec4" stroke-width="1" stroke-dasharray="4,1.5,1,1.5"/>
<path d="M206.68,391.03h3 M206.68,398.04h3" stroke="#1a9ec4" stroke-width="1"/>
<path d="M208.18,397.87 L211.23,392.17 L205.13,392.17Z" fill="#1a9ec4"/>
<line x1="220.69" y1="394.47" x2="220.69" y2="401.47" stroke="#1a9ec4" stroke-width="1" stroke-dasharray="4,1.5,1,1.5"/>
<path d="M219.19,394.47h3 M219.19,401.47h3" stroke="#1a9ec4" stroke-width="1"/>
<path d="M220.69,401.30 L223.74,395.60 L217.64,395.60Z" fill="#1a9ec4"/>
<line x1="233.21" y1="399.60" x2="233.21" y2="406.61" stroke="#1a9ec4" stroke-width="1" stroke-dasharray="4,1.5,1,1.5"/>
<path d="M231.71,399.60h3 M231.71,406.61h3" stroke="#1a9ec4" stroke-width="1"/>
<path d="M233.21,406.44 L236.26,400.74 L230.16,400.74Z" fill="#1a9ec4"/>
<line x1="245.73" y1="379.33" x2="245.73" y2="392.49" stroke="#1a9ec4" stroke-width="1" stroke-dasharray="4,1.5,1,1.5"/>
<path d="M244.23,379.33h3 M244.23,392.49h3" stroke="#1a9ec4" stroke-width="1"/>
<path d="M245.73,389.06 L248.78,383.36 L242.68,383.36Z" fill="#1a9ec4"/>
<line x1="258.25" y1="376.11" x2="258.25" y2="389.27" stroke="#1a9ec4" stroke-width="1" stroke-dasharray="4,1.5,1,1.5"/>
<path d="M256.75,376.11h3 M256.75,389.27h3" stroke="#1a9ec4" stroke-width="1"/>
<path d="M258.25,385.85 L261.30,380.15 L255.20,380.15Z" fill="#1a9ec4"/>
<line x1="270.77" y1="395.49" x2="270.77" y2="411.30" stroke="#1a9ec4" stroke-width="1" stroke-dasharray="4,1.5,1,1.5"/>
<path d="M269.27,395.49h3 M269.27,411.30h3" stroke="#1a9ec4" stroke-width="1"/>
<path d="M270.77,406.44 L273.82,400.74 L267.72,400.74Z" fill="#1a9ec4"/>
<line x1="283.28" y1="412.11" x2="283.28" y2="427.92" stroke="#1a9ec4" stroke-width="1" stroke-dasharray="4,1.5,1,1.5"/>
<path d="M281.78,412.11h3 M281.78,427.92h3" stroke="#1a9ec4" stroke-width="1"/>
<path d="M283.28,423.06 L286.33,417.36 L280.23,417.36Z" fill="#1a9ec4"/>
<line x1="295.80" y1="381.45" x2="295.80" y2="399.02" stroke="#1a9ec4" stroke-width="1" stroke-dasharray="4,1.5,1,1.5"/>
<path d="M294.30,381.45h3 M294.30,399.02h3" stroke="#1a9ec4" stroke-width="1"/>
<path d="M295.80,393.19 L298.85,387.49 L292.75,387.49Z" fill="#1a9ec4"/>
<line x1="308.32" y1="402.93" x2="308.32" y2="424.05" stroke="#1a9ec4" stroke-width="1" stroke-dasharray="4,1.5,1,1.5"/>
<path d="M306.82,402.93h3 M306.82,424.05h3" stroke="#1a9ec4" stroke-width="1"/>
<path d="M308.32,416.26 L311.37,410.56 L305.27,410.56Z" fill="#1a9ec4"/>
<line x1="320.84" y1="354.42" x2="320.84" y2="418.43" stroke="#1a9ec4" stroke-width="1" stroke-dasharray="4,1.5,1,1.5"/>
<path d="M319.34,354.42h3 M319.34,418.43h3" stroke="#1a9ec4" stroke-width="1"/>
<path d="M320.84,384.10 L323.89,378.40 L317.79,378.40Z" fill="#1a9ec4"/>
<line x1="333.36" y1="355.31" x2="333.36" y2="385.38" stroke="#1a9ec4" stroke-width="1" stroke-dasharray="4,1.5,1,1.5"/>
<path d="M331.86,355.31h3 M331.86,385.38h3" stroke="#1a9ec4" stroke-width="1"/>
<path d="M333.36,372.46 L336.41,366.76 L330.31,366.76Z" fill="#1a9ec4"/>
<line x1="345.87" y1="393.38" x2="345.87" y2="473.62" stroke="#1a9ec4" stroke-width="1" stroke-dasharray="4,1.5,1,1.5"/>
<path d="M344.37,393.38h3 M344.37,473.62h3" stroke="#1a9ec4" stroke-width="1"/>
<path d="M345.87,419.75 L348.92,414.05 L342.82,414.05Z" fill="#1a9ec4"/>
<line x1="358.39" y1="252.69" x2="358.39" y2="423.09" stroke="#1a9ec4" stroke-width="1" stroke-dasharray="4,1.5,1,1.5"/>
<path d="M358.39,305.09 L361.44,299.39 L355.34,299.39Z" fill="#1a9ec4"/>
<polyline points="57.96,375.60 70.48,400.57 83.00,399.67 95.51,400.57 108.03,402.39 120.55,403.97 133.07,402.39 145.59,400.93 158.10,400.30 170.62,405.20 183.14,407.42 195.66,409.09 208.18,403.88 220.69,405.20 233.21,413.27 245.73,394.80 258.25,401.47 270.77,414.64 283.28,406.35 295.80,389.55 308.32,385.66 320.84,419.66 333.36,386.43 345.87,394.72 358.39,530.00" fill="none" stroke="#ff1010" stroke-width="1.15" stroke-dasharray="1,1"/>
<path d="M57.96,372.40 L59.86,375.60 L57.96,378.80 L56.06,375.60Z" fill="#ff1010"/>
<path d="M70.48,397.37 L72.38,400.57 L70.48,403.77 L68.58,400.57Z" fill="#ff1010"/>
<path d="M83.00,396.47 L84.90,399.67 L83.00,402.87 L81.10,399.67Z" fill="#ff1010"/>
<path d="M95.51,397.37 L97.41,400.57 L95.51,403.77 L93.61,400.57Z" fill="#ff1010"/>
<path d="M108.03,399.19 L109.93,402.39 L108.03,405.59 L106.13,402.39Z" fill="#ff1010"/>
<path d="M120.55,400.77 L122.45,403.97 L120.55,407.17 L118.65,403.97Z" fill="#ff1010"/>
<path d="M133.07,399.19 L134.97,402.39 L133.07,405.59 L131.17,402.39Z" fill="#ff1010"/>
<path d="M145.59,397.73 L147.49,400.93 L145.59,404.13 L143.69,400.93Z" fill="#ff1010"/>
<path d="M158.10,397.10 L160.00,400.30 L158.10,403.50 L156.20,400.30Z" fill="#ff1010"/>
<line x1="170.62" y1="403.04" x2="170.62" y2="407.42" stroke="#ff1010" stroke-width="1" stroke-dasharray="1,1"/>
<path d="M170.62,402.00 L172.52,405.20 L170.62,408.40 L168.72,405.20Z" fill="#ff1010"/>
<line x1="183.14" y1="405.26" x2="183.14" y2="409.64" stroke="#ff1010" stroke-width="1" stroke-dasharray="1,1"/>
<path d="M183.14,404.22 L185.04,407.42 L183.14,410.62 L181.24,407.42Z" fill="#ff1010"/>
<line x1="195.66" y1="406.93" x2="195.66" y2="411.31" stroke="#ff1010" stroke-width="1" stroke-dasharray="1,1"/>
<path d="M195.66,405.89 L197.56,409.09 L195.66,412.29 L193.76,409.09Z" fill="#ff1010"/>
<line x1="208.18" y1="400.44" x2="208.18" y2="407.45" stroke="#ff1010" stroke-width="1" stroke-dasharray="1,1"/>
<path d="M208.18,400.68 L210.08,403.88 L208.18,407.08 L206.28,403.88Z" fill="#ff1010"/>
<line x1="220.69" y1="401.77" x2="220.69" y2="408.78" stroke="#ff1010" stroke-width="1" stroke-dasharray="1,1"/>
<path d="M220.69,402.00 L222.59,405.20 L220.69,408.40 L218.79,405.20Z" fill="#ff1010"/>
<line x1="233.21" y1="409.84" x2="233.21" y2="416.85" stroke="#ff1010" stroke-width="1" stroke-dasharray="1,1"/>
<path d="M233.21,410.07 L235.11,413.27 L233.21,416.47 L231.31,413.27Z" fill="#ff1010"/>
<line x1="245.73" y1="388.47" x2="245.73" y2="401.63" stroke="#ff1010" stroke-width="1" stroke-dasharray="1,1"/>
<path d="M245.73,391.60 L247.63,394.80 L245.73,398.00 L243.83,394.80Z" fill="#ff1010"/>
<line x1="258.25" y1="395.14" x2="258.25" y2="408.30" stroke="#ff1010" stroke-width="1" stroke-dasharray="1,1"/>
<path d="M258.25,398.27 L260.15,401.47 L258.25,404.67 L256.35,401.47Z" fill="#ff1010"/>
<line x1="270.77" y1="407.09" x2="270.77" y2="422.90" stroke="#ff1010" stroke-width="1" stroke-dasharray="1,1"/>
<path d="M270.77,411.44 L272.67,414.64 L270.77,417.84 L268.87,414.64Z" fill="#ff1010"/>
<line x1="283.28" y1="398.80" x2="283.28" y2="414.61" stroke="#ff1010" stroke-width="1" stroke-dasharray="1,1"/>
<path d="M283.28,403.15 L285.18,406.35 L283.28,409.55 L281.38,406.35Z" fill="#ff1010"/>
<line x1="295.80" y1="381.21" x2="295.80" y2="398.78" stroke="#ff1010" stroke-width="1" stroke-dasharray="1,1"/>
<path d="M295.80,386.35 L297.70,389.55 L295.80,392.75 L293.90,389.55Z" fill="#ff1010"/>
<line x1="308.32" y1="375.74" x2="308.32" y2="396.86" stroke="#ff1010" stroke-width="1" stroke-dasharray="1,1"/>
<path d="M308.32,382.46 L310.22,385.66 L308.32,388.86 L306.42,385.66Z" fill="#ff1010"/>
<line x1="320.84" y1="396.68" x2="320.84" y2="450.89" stroke="#ff1010" stroke-width="1" stroke-dasharray="1,1"/>
<path d="M320.84,416.46 L322.74,419.66 L320.84,422.86 L318.94,419.66Z" fill="#ff1010"/>
<line x1="333.36" y1="372.68" x2="333.36" y2="402.74" stroke="#ff1010" stroke-width="1" stroke-dasharray="1,1"/>
<path d="M333.36,383.23 L335.26,386.43 L333.36,389.63 L331.46,386.43Z" fill="#ff1010"/>
<line x1="345.87" y1="371.74" x2="345.87" y2="425.95" stroke="#ff1010" stroke-width="1" stroke-dasharray="1,1"/>
<path d="M345.87,391.52 L347.77,394.72 L345.87,397.92 L343.97,394.72Z" fill="#ff1010"/>
<path d="M358.39,526.80 L360.29,530.00 L358.39,533.20 L356.49,530.00Z" fill="#ff1010"/>
<polyline points="57.96,383.41 70.48,397.90 83.00,397.03 95.51,396.17 108.03,397.03 120.55,397.03 133.07,392.80 145.59,393.63 158.10,395.31 170.62,396.17 183.14,397.90 195.66,399.67 208.18,396.17 220.69,397.03 233.21,389.55 245.73,387.98 258.25,389.55 270.77,402.39 283.28,402.39 295.80,394.72 308.32,392.80 320.84,408.11 333.36,391.40 345.87,381.93 358.39,307.73" fill="none" stroke="#1a9ec4" stroke-width="1.15" stroke-dasharray="4,1.5,1,1.5,1,1.5"/>
<path d="M57.96,386.81 L61.01,381.11 L54.91,381.11Z" fill="#1a9ec4"/>
<path d="M70.48,401.30 L73.53,395.60 L67.43,395.60Z" fill="#1a9ec4"/>
<path d="M83.00,400.43 L86.05,394.73 L79.95,394.73Z" fill="#1a9ec4"/>
<path d="M95.51,399.57 L98.56,393.87 L92.46,393.87Z" fill="#1a9ec4"/>
<path d="M108.03,400.43 L111.08,394.73 L104.98,394.73Z" fill="#1a9ec4"/>
<path d="M120.55,400.43 L123.60,394.73 L117.50,394.73Z" fill="#1a9ec4"/>
<path d="M133.07,396.20 L136.12,390.50 L130.02,390.50Z" fill="#1a9ec4"/>
<path d="M145.59,397.03 L148.64,391.33 L142.54,391.33Z" fill="#1a9ec4"/>
<path d="M158.10,398.71 L161.15,393.01 L155.05,393.01Z" fill="#1a9ec4"/>
<line x1="170.62" y1="394.00" x2="170.62" y2="398.38" stroke="#1a9ec4" stroke-width="1" stroke-dasharray="4,1.5,1,1.5,1,1.5"/>
<path d="M169.12,394.00h3 M169.12,398.38h3" stroke="#1a9ec4" stroke-width="1"/>
<path d="M170.62,399.57 L173.67,393.87 L167.57,393.87Z" fill="#1a9ec4"/>
<line x1="183.14" y1="395.74" x2="183.14" y2="400.12" stroke="#1a9ec4" stroke-width="1" stroke-dasharray="4,1.5,1,1.5,1,1.5"/>
<path d="M181.64,395.74h3 M181.64,400.12h3" stroke="#1a9ec4" stroke-width="1"/>
<path d="M183.14,401.30 L186.19,395.60 L180.09,395.60Z" fill="#1a9ec4"/>
<line x1="195.66" y1="397.51" x2="195.66" y2="401.89" stroke="#1a9ec4" stroke-width="1" stroke-dasharray="4,1.5,1,1.5,1,1.5"/>
<path d="M194.16,397.51h3 M194.16,401.89h3" stroke="#1a9ec4" stroke-width="1"/>
<path d="M195.66,403.07 L198.71,397.37 L192.61,397.37Z" fill="#1a9ec4"/>
<line x1="208.18" y1="392.73" x2="208.18" y2="399.74" stroke="#1a9ec4" stroke-width="1" stroke-dasharray="4,1.5,1,1.5,1,1.5"/>
<path d="M206.68,392.73h3 M206.68,399.74h3" stroke="#1a9ec4" stroke-width="1"/>
<path d="M208.18,399.57 L211.23,393.87 L205.13,393.87Z" fill="#1a9ec4"/>
<line x1="220.69" y1="393.59" x2="220.69" y2="400.60" stroke="#1a9ec4" stroke-width="1" stroke-dasharray="4,1.5,1,1.5,1,1.5"/>
<path d="M219.19,393.59h3 M219.19,400.60h3" stroke="#1a9ec4" stroke-width="1"/>
<path d="M220.69,400.43 L223.74,394.73 L217.64,394.73Z" fill="#1a9ec4"/>
<line x1="233.21" y1="386.12" x2="233.21" y2="393.13" stroke="#1a9ec4" stroke-width="1" stroke-dasharray="4,1.5,1,1.5,1,1.5"/>
<path d="M231.71,386.12h3 M231.71,393.13h3" stroke="#1a9ec4" stroke-width="1"/>
<path d="M233.21,392.95 L236.26,387.25 L230.16,387.25Z" fill="#1a9ec4"/>
<line x1="245.73" y1="381.64" x2="245.73" y2="394.80" stroke="#1a9ec4" stroke-width="1" stroke-dasharray="4,1.5,1,1.5,1,1.5"/>
<path d="M244.23,381.64h3 M244.23,394.80h3" stroke="#1a9ec4" stroke-width="1"/>
<path d="M245.73,391.38 L248.78,385.68 L242.68,385.68Z" fill="#1a9ec4"/>
<line x1="258.25" y1="383.22" x2="258.25" y2="396.38" stroke="#1a9ec4" stroke-width="1" stroke-dasharray="4,1.5,1,1.5,1,1.5"/>
<path d="M256.75,383.22h3 M256.75,396.38h3" stroke="#1a9ec4" stroke-width="1"/>
<path d="M258.25,392.95 L261.30,387.25 L255.20,387.25Z" fill="#1a9ec4"/>
<line x1="270.77" y1="394.85" x2="270.77" y2="410.65" stroke="#1a9ec4" stroke-width="1" stroke-dasharray="4,1.5,1,1.5,1,1.5"/>
<path d="M269.27,394.85h3 M269.27,410.65h3" stroke="#1a9ec4" stroke-width="1"/>
<path d="M270.77,405.79 L273.82,400.09 L267.72,400.09Z" fill="#1a9ec4"/>
<line x1="283.28" y1="394.85" x2="283.28" y2="410.65" stroke="#1a9ec4" stroke-width="1" stroke-dasharray="4,1.5,1,1.5,1,1.5"/>
<path d="M281.78,394.85h3 M281.78,410.65h3" stroke="#1a9ec4" stroke-width="1"/>
<path d="M283.28,405.79 L286.33,400.09 L280.23,400.09Z" fill="#1a9ec4"/>
<line x1="295.80" y1="386.37" x2="295.80" y2="403.94" stroke="#1a9ec4" stroke-width="1" stroke-dasharray="4,1.5,1,1.5,1,1.5"/>
<path d="M294.30,386.37h3 M294.30,403.94h3" stroke="#1a9ec4" stroke-width="1"/>
<path d="M295.80,398.12 L298.85,392.42 L292.75,392.42Z" fill="#1a9ec4"/>
<line x1="308.32" y1="382.87" x2="308.32" y2="403.99" stroke="#1a9ec4" stroke-width="1" stroke-dasharray="4,1.5,1,1.5,1,1.5"/>
<path d="M306.82,382.87h3 M306.82,403.99h3" stroke="#1a9ec4" stroke-width="1"/>
<path d="M308.32,396.20 L311.37,390.50 L305.27,390.50Z" fill="#1a9ec4"/>
<line x1="320.84" y1="394.36" x2="320.84" y2="424.42" stroke="#1a9ec4" stroke-width="1" stroke-dasharray="4,1.5,1,1.5,1,1.5"/>
<path d="M319.34,394.36h3 M319.34,424.42h3" stroke="#1a9ec4" stroke-width="1"/>
<path d="M320.84,411.51 L323.89,405.81 L317.79,405.81Z" fill="#1a9ec4"/>
<line x1="333.36" y1="377.65" x2="333.36" y2="407.72" stroke="#1a9ec4" stroke-width="1" stroke-dasharray="4,1.5,1,1.5,1,1.5"/>
<path d="M331.86,377.65h3 M331.86,407.72h3" stroke="#1a9ec4" stroke-width="1"/>
<path d="M333.36,394.80 L336.41,389.10 L330.31,389.10Z" fill="#1a9ec4"/>
<line x1="345.87" y1="358.96" x2="345.87" y2="413.17" stroke="#1a9ec4" stroke-width="1" stroke-dasharray="4,1.5,1,1.5,1,1.5"/>
<path d="M344.37,358.96h3 M344.37,413.17h3" stroke="#1a9ec4" stroke-width="1"/>
<path d="M345.87,385.33 L348.92,379.63 L342.82,379.63Z" fill="#1a9ec4"/>
<line x1="358.39" y1="258.73" x2="358.39" y2="429.13" stroke="#1a9ec4" stroke-width="1" stroke-dasharray="4,1.5,1,1.5,1,1.5"/>
<path d="M358.39,311.13 L361.44,305.43 L355.34,305.43Z" fill="#1a9ec4"/>
</g>
<path d="M45.5,17.5H371.5V477.5H45.5Z M45.5,317.5H371.5 M51.70,17.5v8.5 M51.70,317.5v-8.5 M51.70,317.5v5 M51.70,477.5v-5 M67.35,17.5v2.2 M67.35,317.5v-2.2 M67.35,317.5v1.6 M67.35,477.5v-1.6 M83.00,17.5v4.3 M83.00,317.5v-4.3 M83.00,317.5v2.6 M83.00,477.5v-2.6 M98.64,17.5v2.2 M98.64,317.5v-2.2 M98.64,317.5v1.6 M98.64,477.5v-1.6 M114.29,17.5v4.3 M114.29,317.5v-4.3 M114.29,317.5v2.6 M114.29,477.5v-2.6 M129.94,17.5v2.2 M129.94,317.5v-2.2 M129.94,317.5v1.6 M129.94,477.5v-1.6 M145.59,17.5v4.3 M145.59,317.5v-4.3 M145.59,317.5v2.6 M145.59,477.5v-2.6 M161.23,17.5v2.2 M161.23,317.5v-2.2 M161.23,317.5v1.6 M161.23,477.5v-1.6 M176.88,17.5v4.3 M176.88,317.5v-4.3 M176.88,317.5v2.6 M176.88,477.5v-2.6 M192.53,17.5v2.2 M192.53,317.5v-2.2 M192.53,317.5v1.6 M192.53,477.5v-1.6 M208.17,17.5v8.5 M208.17,317.5v-8.5 M208.17,317.5v5 M208.17,477.5v-5 M223.82,17.5v2.2 M223.82,317.5v-2.2 M223.82,317.5v1.6 M223.82,477.5v-1.6 M239.47,17.5v4.3 M239.47,317.5v-4.3 M239.47,317.5v2.6 M239.47,477.5v-2.6 M255.12,17.5v2.2 M255.12,317.5v-2.2 M255.12,317.5v1.6 M255.12,477.5v-1.6 M270.76,17.5v4.3 M270.76,317.5v-4.3 M270.76,317.5v2.6 M270.76,477.5v-2.6 M286.41,17.5v2.2 M286.41,317.5v-2.2 M286.41,317.5v1.6 M286.41,477.5v-1.6 M302.06,17.5v4.3 M302.06,317.5v-4.3 M302.06,317.5v2.6 M302.06,477.5v-2.6 M317.71,17.5v2.2 M317.71,317.5v-2.2 M317.71,317.5v1.6 M317.71,477.5v-1.6 M333.35,17.5v4.3 M333.35,317.5v-4.3 M333.35,317.5v2.6 M333.35,477.5v-2.6 M349.00,17.5v2.2 M349.00,317.5v-2.2 M349.00,317.5v1.6 M349.00,477.5v-1.6 M364.65,17.5v8.5 M364.65,317.5v-8.5 M364.65,317.5v5 M364.65,477.5v-5 M45.5,303.97h5.5 M371.5,303.97h-5.5 M45.5,295.04h5.5 M371.5,295.04h-5.5 M45.5,288.70h5.5 M371.5,288.70h-5.5 M45.5,283.78h5.5 M371.5,283.78h-5.5 M45.5,279.76h5.5 M371.5,279.76h-5.5 M45.5,276.36h5.5 M371.5,276.36h-5.5 M45.5,273.42h5.5 M371.5,273.42h-5.5 M45.5,270.82h5.5 M371.5,270.82h-5.5 M45.5,268.50h11.5 M371.5,268.50h-11.5 M45.5,253.22h5.5 M371.5,253.22h-5.5 M45.5,244.29h5.5 M371.5,244.29h-5.5 M45.5,237.95h5.5 M371.5,237.95h-5.5 M45.5,233.03h5.5 M371.5,233.03h-5.5 M45.5,229.01h5.5 M371.5,229.01h-5.5 M45.5,225.61h5.5 M371.5,225.61h-5.5 M45.5,222.67h5.5 M371.5,222.67h-5.5 M45.5,220.07h5.5 M371.5,220.07h-5.5 M45.5,217.75h11.5 M371.5,217.75h-11.5 M45.5,202.47h5.5 M371.5,202.47h-5.5 M45.5,193.54h5.5 M371.5,193.54h-5.5 M45.5,187.20h5.5 M371.5,187.20h-5.5 M45.5,182.28h5.5 M371.5,182.28h-5.5 M45.5,178.26h5.5 M371.5,178.26h-5.5 M45.5,174.86h5.5 M371.5,174.86h-5.5 M45.5,171.92h5.5 M371.5,171.92h-5.5 M45.5,169.32h5.5 M371.5,169.32h-5.5 M45.5,167.00h11.5 M371.5,167.00h-11.5 M45.5,151.72h5.5 M371.5,151.72h-5.5 M45.5,142.79h5.5 M371.5,142.79h-5.5 M45.5,136.45h5.5 M371.5,136.45h-5.5 M45.5,131.53h5.5 M371.5,131.53h-5.5 M45.5,127.51h5.5 M371.5,127.51h-5.5 M45.5,124.11h5.5 M371.5,124.11h-5.5 M45.5,121.17h5.5 M371.5,121.17h-5.5 M45.5,118.57h5.5 M371.5,118.57h-5.5 M45.5,116.25h11.5 M371.5,116.25h-11.5 M45.5,100.97h5.5 M371.5,100.97h-5.5 M45.5,92.04h5.5 M371.5,92.04h-5.5 M45.5,85.70h5.5 M371.5,85.70h-5.5 M45.5,80.78h5.5 M371.5,80.78h-5.5 M45.5,76.76h5.5 M371.5,76.76h-5.5 M45.5,73.36h5.5 M371.5,73.36h-5.5 M45.5,70.42h5.5 M371.5,70.42h-5.5 M45.5,67.82h5.5 M371.5,67.82h-5.5 M45.5,65.50h11.5 M371.5,65.50h-11.5 M45.5,50.22h5.5 M371.5,50.22h-5.5 M45.5,41.29h5.5 M371.5,41.29h-5.5 M45.5,34.95h5.5 M371.5,34.95h-5.5 M45.5,30.03h5.5 M371.5,30.03h-5.5 M45.5,26.01h5.5 M371.5,26.01h-5.5 M45.5,22.61h5.5 M371.5,22.61h-5.5 M45.5,19.67h5.5 M371.5,19.67h-5.5 M45.5,458.60h7.5 M371.5,458.60h-7.5 M45.5,442.63h5 M371.5,442.63h-5 M45.5,429.13h5 M371.5,429.13h-5 M45.5,417.44h5 M371.5,417.44h-5 M45.5,407.13h5 M371.5,407.13h-5 M45.5,397.90h7.5 M371.5,397.90h-7.5 M45.5,389.55h5 M371.5,389.55h-5 M45.5,381.93h5 M371.5,381.93h-5 M45.5,374.92h5 M371.5,374.92h-5 M45.5,368.43h5 M371.5,368.43h-5 M45.5,362.39h5 M371.5,362.39h-5 M45.5,356.74h5 M371.5,356.74h-5 M45.5,351.43h5 M371.5,351.43h-5 M45.5,346.43h5 M371.5,346.43h-5 M45.5,341.69h5 M371.5,341.69h-5 M45.5,337.20h7.5 M371.5,337.20h-7.5 M45.5,332.93h5 M371.5,332.93h-5 M45.5,328.85h5 M371.5,328.85h-5 M45.5,324.96h5 M371.5,324.96h-5 M45.5,321.23h5 M371.5,321.23h-5 M45.5,317.66h5 M371.5,317.66h-5" fill="none" stroke="#000" stroke-width="1.1"/>
<text x="50.0" y="14.2" font-size="12.2" text-anchor="start" fill="#000" font-family="Liberation Sans, sans-serif" >91.2 GeV ee</text>
<text x="366.8" y="14.2" font-size="12.2" text-anchor="end" fill="#000" font-family="Liberation Sans, sans-serif" >γ*/Z (Hadronic)</text>
<text x="75.2" y="42.7" font-size="12" text-anchor="start" fill="#000" font-family="Liberation Sans, sans-serif" >Asymmetry of the energy-energy correlation, AEEC</text>
<text transform="translate(17.4,16.6) rotate(-90)" font-size="12" text-anchor="end" font-family="Liberation Sans, sans-serif">AEEC</text>
<text transform="translate(18.2,363.2) rotate(-90)" font-size="8.9" text-anchor="end" font-family="Liberation Sans, sans-serif">Ratio to DELPHI</text>
<text transform="translate(381.2,127.2) rotate(-90)" font-size="9.4" fill="#777" font-family="Liberation Sans, sans-serif">Rivet 4.1.0, ≥ 100k events</text>
<text transform="translate(381.2,313.8) rotate(-90)" font-size="9.4" fill="#777" font-family="Liberation Sans, sans-serif">mcplots.cern.ch [arXiv:2401.10621]</text>
<text x="163.5" y="302.2" font-size="8" text-anchor="start" fill="#999" font-family="Liberation Sans, sans-serif" >(DELPHI_1996_I424112)</text>
<text x="39.3" y="69.7" font-size="12" text-anchor="end" fill="#000" font-family="Liberation Sans, sans-serif" >1</text>
<text x="31.5" y="121.75" font-size="12" text-anchor="end" font-family="Liberation Sans, sans-serif">10</text>
<text x="31.3" y="117.35" font-size="7.4" font-family="Liberation Sans, sans-serif">−1</text>
<text x="31.5" y="172.50" font-size="12" text-anchor="end" font-family="Liberation Sans, sans-serif">10</text>
<text x="31.3" y="168.10" font-size="7.4" font-family="Liberation Sans, sans-serif">−2</text>
<text x="31.5" y="223.25" font-size="12" text-anchor="end" font-family="Liberation Sans, sans-serif">10</text>
<text x="31.3" y="218.85" font-size="7.4" font-family="Liberation Sans, sans-serif">−3</text>
<text x="31.5" y="274.00" font-size="12" text-anchor="end" font-family="Liberation Sans, sans-serif">10</text>
<text x="31.3" y="269.60" font-size="7.4" font-family="Liberation Sans, sans-serif">−4</text>
<text x="38.5" y="341.40" font-size="12" text-anchor="end" fill="#000" font-family="Liberation Sans, sans-serif" >2</text>
<text x="373.9" y="341.40" font-size="12" text-anchor="start" fill="#000" font-family="Liberation Sans, sans-serif" >2</text>
<text x="38.5" y="402.10" font-size="12" text-anchor="end" fill="#000" font-family="Liberation Sans, sans-serif" >1</text>
<text x="373.9" y="402.10" font-size="12" text-anchor="start" fill="#000" font-family="Liberation Sans, sans-serif" >1</text>
<text x="38.5" y="462.80" font-size="12" text-anchor="end" fill="#000" font-family="Liberation Sans, sans-serif" >0.5</text>
<text x="373.9" y="462.80" font-size="12" text-anchor="start" fill="#000" font-family="Liberation Sans, sans-serif" >0.5</text>
<text x="51.9" y="489.8" font-size="11.7" text-anchor="middle" fill="#000" font-family="Liberation Sans, sans-serif" >−1</text>
<text x="208.3" y="489.8" font-size="11.7" text-anchor="middle" fill="#000" font-family="Liberation Sans, sans-serif" >−0.5</text>
<text x="365.0" y="489.8" font-size="11.7" text-anchor="middle" fill="#000" font-family="Liberation Sans, sans-serif" >0</text>
<text x="371.5" y="504.5" font-size="12" text-anchor="end" fill="#000" font-family="Liberation Sans, sans-serif" >cos{χ}</text>
<rect x="73.70" y="195.20" width="5.8" height="5.8" fill="#000"/>
<text x="94" y="201.00" font-size="9.4" text-anchor="start" fill="#000" font-family="Liberation Sans, sans-serif" >DELPHI</text>
<line x1="64" y1="211.13" x2="89" y2="211.13" stroke="#b86a22" stroke-width="1" stroke-dasharray="2.8,1.6"/>
<circle cx="76.60" cy="211.13" r="2.85" fill="none" stroke="#b86a22" stroke-width="1.15"/>
<text x="94" y="214.03" font-size="9.4" text-anchor="start" fill="#000" font-family="Liberation Sans, sans-serif" >Herwig++ 2.7.1 default</text>
<line x1="64" y1="224.16" x2="89" y2="224.16" stroke="#3c9c28" stroke-width="1" stroke-dasharray="2.2,1.8"/>
<rect x="73.60" y="221.16" width="6.0" height="6.0" fill="none" stroke="#3c9c28" stroke-width="1.15"/>
<text x="94" y="227.06" font-size="9.4" text-anchor="start" fill="#000" font-family="Liberation Sans, sans-serif" >Herwig 7.2.1 default</text>
<line x1="64" y1="237.19" x2="89" y2="237.19" stroke="#0000f0" stroke-width="1"/>
<path d="M76.60,233.79 L79.65,239.49 L73.55,239.49Z" fill="#0000f0"/>
<text x="94" y="240.09" font-size="9.4" text-anchor="start" fill="#000" font-family="Liberation Sans, sans-serif" >Pythia 8.315 default</text>
<line x1="64" y1="250.22" x2="89" y2="250.22" stroke="#1a9ec4" stroke-width="1" stroke-dasharray="4,1.5,1,1.5"/>
<path d="M76.60,253.62 L79.65,247.92 L73.55,247.92Z" fill="#1a9ec4"/>
<text x="94" y="253.12" font-size="9.4" text-anchor="start" fill="#000" font-family="Liberation Sans, sans-serif" >Pythia 8.315 vincia-default</text>
<line x1="64" y1="263.25" x2="89" y2="263.25" stroke="#ff1010" stroke-width="1" stroke-dasharray="1,1"/>
<path d="M76.60,260.05 L78.50,263.25 L76.60,266.45 L74.70,263.25Z" fill="#ff1010"/>
<text x="94" y="266.15" font-size="9.4" text-anchor="start" fill="#000" font-family="Liberation Sans, sans-serif" >Sherpa 2.2.9 default</text>
<line x1="64" y1="276.28" x2="89" y2="276.28" stroke="#1a9ec4" stroke-width="1" stroke-dasharray="4,1.5,1,1.5,1,1.5"/>
<path d="M76.60,279.68 L79.65,273.98 L73.55,273.98Z" fill="#1a9ec4"/>
<text x="94" y="279.18" font-size="9.4" text-anchor="start" fill="#000" font-family="Liberation Sans, sans-serif" >Vincia 1.1.03_8.185 default</text>
</svg></body></html>
